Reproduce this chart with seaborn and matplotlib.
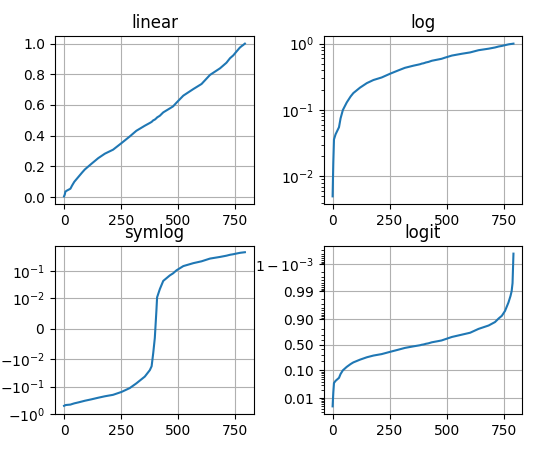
import matplotlib
matplotlib.use("Agg")
import matplotlib.pyplot as plt
import seaborn as sns
import numpy as np
from matplotlib.ticker import NullFormatter, FixedLocator, FixedFormatter

# values (sorted samples)
x_idx = [0, 3, 6, 13, 28, 35, 45, 62, 79, 91, 120, 150, 179, 215, 252, 288, 317,
         354, 376, 384, 391, 398, 405, 408, 420, 435, 464, 478, 493, 523, 567,
         603, 640, 684, 712, 728, 742, 756, 771, 780, 785, 789, 793]
y_vals = [0.005, 0.016, 0.036, 0.043, 0.055, 0.075, 0.100, 0.130, 0.160, 0.180,
          0.217, 0.254, 0.283, 0.309, 0.352, 0.395, 0.432, 0.465, 0.483, 0.490,
          0.500, 0.505, 0.514, 0.519, 0.530, 0.552, 0.578, 0.591, 0.615, 0.661,
          0.704, 0.737, 0.796, 0.839, 0.875, 0.905, 0.923, 0.948, 0.974, 0.985,
          0.990, 0.995, 0.9996]
y_mean = 0.508  # mean of the samples

titles = ["linear", "log", "symlog", "logit"]
logit_ticks = [0.01, 0.10, 0.50, 0.90, 0.99, 0.999]
logit_labels = ["0.01", "0.10", "0.50", "0.90", "0.99", r"$1-10^{-3}$"]

x = np.array(x_idx)
y = np.array(y_vals)

fig = plt.figure(figsize=(5.5, 4.5), dpi=100)

ax1 = fig.add_subplot(221)
sns.lineplot(x=x, y=y, ax=ax1, sort=False)
ax1.set_yscale("linear")
ax1.set_title(titles[0])
ax1.grid(True)

ax2 = fig.add_subplot(222)
sns.lineplot(x=x, y=y, ax=ax2, sort=False)
ax2.set_yscale("log")
ax2.set_title(titles[1])
ax2.grid(True)

ax3 = fig.add_subplot(223)
sns.lineplot(x=x, y=y - y_mean, ax=ax3, sort=False)
ax3.set_yscale("symlog", linthresh=0.01)
ax3.set_ylim(-1.0, 0.83)
ax3.set_title(titles[2])
ax3.grid(True)

ax4 = fig.add_subplot(224)
sns.lineplot(x=x, y=y, ax=ax4, sort=False)
ax4.set_yscale("logit")
ax4.set_title(titles[3])
ax4.grid(True)
ax4.yaxis.set_major_locator(FixedLocator(logit_ticks))
ax4.yaxis.set_major_formatter(FixedFormatter(logit_labels))
ax4.yaxis.set_minor_formatter(NullFormatter())

for ax in (ax1, ax2, ax3, ax4):
    ax.set_xlabel("")
    ax.set_ylabel("")

fig.subplots_adjust(top=0.92, bottom=0.08, left=0.10, right=0.95,
                    hspace=0.25, wspace=0.35)
fig.savefig("out.png", dpi=100)
